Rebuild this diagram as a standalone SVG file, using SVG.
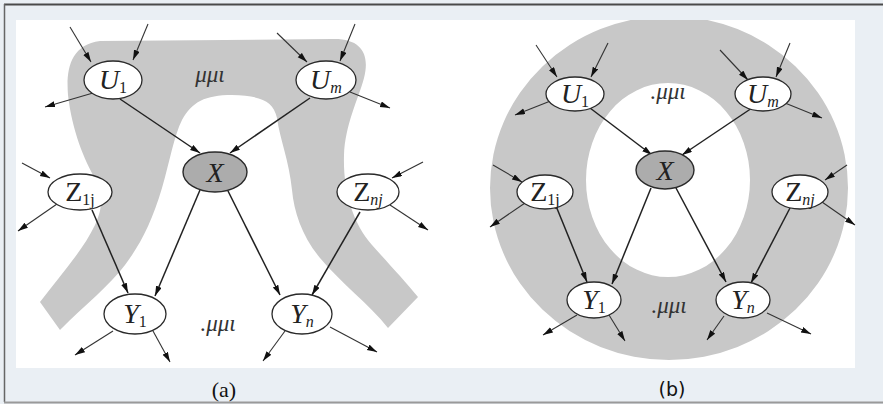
<svg xmlns="http://www.w3.org/2000/svg" width="883" height="404" viewBox="0 0 883 404">
<defs>
<style>
.node{fill:#fff;stroke:#2a2a2a;stroke-width:1.3}
.xnode{fill:#acacac;stroke:#2a2a2a;stroke-width:1.4}
.lbl{font-family:"Liberation Serif",serif;font-style:italic;font-size:28px;fill:#222}
.up{font-style:normal}
.sub{font-size:16px}
.mu{font-family:"Liberation Serif",serif;font-style:italic;font-size:23px;fill:#333}
.e{stroke:#222;stroke-width:1.5;fill:none;marker-end:url(#ah)}
.p{stroke:#333;stroke-width:1.1;fill:none;marker-end:url(#ah)}
.band{fill:#c8c8c8}
</style>
<marker id="ah" markerUnits="userSpaceOnUse" markerWidth="11" markerHeight="8" refX="10" refY="3" orient="auto">
<path d="M0,0 L10,3 L0,6 Z" fill="#111"/>
</marker>
<clipPath id="pan"><rect x="16" y="20" width="839" height="348"/></clipPath>
</defs>
<rect x="0" y="0" width="883" height="404" fill="#eaeff4"/>
<line x1="4" y1="4.5" x2="883" y2="4.5" stroke="#4a4a4a" stroke-width="2"/>
<line x1="4.5" y1="4" x2="4.5" y2="402" stroke="#666" stroke-width="1.5"/>
<line x1="4" y1="402.5" x2="883" y2="402.5" stroke="#9a9a9a" stroke-width="2"/>
<rect x="16" y="20" width="839" height="348" fill="#fff"/>

<g id="bands" clip-path="url(#pan)">
<path class="band" d="M40,302 C58,278 82,252 95,225 C104,206 102,192 96,180 C84,160 72,130 68,95 C66,70 70,45 100,41 L332,39 C362,38 370,55 364,78 C358,100 345,125 344,155 C343,190 352,222 372,245 C388,263 405,281 418,297 L388,328 C370,305 340,282 320,258 C302,236 294,212 292,190 C289,160 280,140 277,118 C273,100 260,96 232,95 C205,95 192,102 182,120 C174,136 170,160 162,188 C152,222 140,245 125,265 C110,285 85,305 60,330 Z"/>
<path class="band" fill-rule="evenodd" d="M490,188 A179,172 0 1,0 848,188 A179,172 0 1,0 490,188 Z M586,180 A82,97 0 1,0 750,180 A82,97 0 1,0 586,180 Z"/>
</g>

<g id="connectors">
<line class="p" x1="70" y1="27" x2="91" y2="62"/>
<line class="p" x1="148" y1="24" x2="133" y2="60"/>
<line class="p" x1="93" y1="93" x2="45" y2="107"/>
<line class="e" x1="120" y1="99" x2="200" y2="153"/>
<line class="p" x1="277" y1="33" x2="307" y2="62"/>
<line class="p" x1="355" y1="24" x2="340" y2="61"/>
<line class="p" x1="350" y1="92" x2="390" y2="108"/>
<line class="e" x1="310" y1="98" x2="230" y2="153"/>
<line class="p" x1="22" y1="163" x2="50" y2="178"/>
<line class="p" x1="57" y1="204" x2="18" y2="231"/>
<line class="e" x1="92" y1="210" x2="128" y2="293"/>
<line class="e" x1="200" y1="190" x2="155" y2="296"/>
<line class="e" x1="228" y1="191" x2="280" y2="295"/>
<line class="p" x1="423" y1="162" x2="392" y2="178"/>
<line class="p" x1="390" y1="205" x2="428" y2="230"/>
<line class="e" x1="360" y1="212" x2="312" y2="295"/>
<line class="p" x1="113" y1="331" x2="75" y2="355"/>
<line class="p" x1="153" y1="331" x2="170" y2="362"/>
<line class="p" x1="285" y1="331" x2="263" y2="361"/>
<line class="p" x1="330" y1="327" x2="377" y2="352"/>

<line class="p" x1="536" y1="45" x2="557" y2="77"/>
<line class="p" x1="608" y1="43" x2="591" y2="77"/>
<line class="p" x1="553" y1="100" x2="515" y2="115"/>
<line class="e" x1="590" y1="108" x2="652" y2="155"/>
<line class="p" x1="720" y1="50" x2="748" y2="80"/>
<line class="p" x1="790" y1="43" x2="776" y2="77"/>
<line class="p" x1="785" y1="103" x2="822" y2="118"/>
<line class="e" x1="752" y1="108" x2="682" y2="155"/>
<line class="p" x1="493" y1="165" x2="522" y2="182"/>
<line class="p" x1="525" y1="203" x2="490" y2="227"/>
<line class="e" x1="556" y1="206" x2="587" y2="282"/>
<line class="e" x1="651" y1="188" x2="612" y2="284"/>
<line class="e" x1="676" y1="188" x2="726" y2="282"/>
<line class="p" x1="847" y1="165" x2="825" y2="180"/>
<line class="p" x1="822" y1="202" x2="855" y2="225"/>
<line class="e" x1="790" y1="208" x2="751" y2="283"/>
<line class="p" x1="577" y1="315" x2="543" y2="335"/>
<line class="p" x1="609" y1="315" x2="625" y2="341"/>
<line class="p" x1="724" y1="316" x2="707" y2="340"/>
<line class="p" x1="767" y1="313" x2="811" y2="334"/>
</g>

<g id="a-U1"><ellipse class="node" cx="113" cy="80" rx="29" ry="19"/><text class="lbl" x="113" y="89" text-anchor="middle">U<tspan class="sub up" dy="4">1</tspan></text></g>
<g id="a-Um"><ellipse class="node" cx="326" cy="80" rx="30" ry="19"/><text class="lbl" x="326" y="89" text-anchor="middle">U<tspan class="sub" dy="4">m</tspan></text></g>
<g id="a-X"><ellipse class="xnode" cx="215" cy="172" rx="32" ry="20"/><text class="lbl" x="215" y="182" text-anchor="middle">X</text></g>
<g id="a-Z1j"><ellipse class="node" cx="80" cy="192" rx="32" ry="18"/><text class="lbl up" x="80" y="201" text-anchor="middle">Z<tspan class="sub" dy="4">1j</tspan></text></g>
<g id="a-Znj"><ellipse class="node" cx="368" cy="192" rx="31" ry="18"/><text class="lbl up" x="368" y="201" text-anchor="middle">Z<tspan class="sub" style="font-style:italic" dy="4">nj</tspan></text></g>
<g id="a-Y1"><ellipse class="node" cx="135" cy="314" rx="31" ry="20"/><text class="lbl" x="135" y="323" text-anchor="middle">Y<tspan class="sub up" dy="4">1</tspan></text></g>
<g id="a-Yn"><ellipse class="node" cx="302" cy="314" rx="30" ry="20"/><text class="lbl" x="302" y="323" text-anchor="middle">Y<tspan class="sub" dy="4">n</tspan></text></g>
<text class="mu" x="210" y="82" text-anchor="middle">μμι</text>
<text class="mu" x="218" y="331" text-anchor="middle">.μμι</text>

<g id="b-U1"><ellipse class="node" cx="575" cy="94" rx="29" ry="17"/><text class="lbl" x="575" y="103" text-anchor="middle">U<tspan class="sub up" dy="4">1</tspan></text></g>
<g id="b-Um"><ellipse class="node" cx="763" cy="94" rx="28" ry="17"/><text class="lbl" x="763" y="103" text-anchor="middle">U<tspan class="sub" dy="4">m</tspan></text></g>
<g id="b-X"><ellipse class="xnode" cx="665" cy="170" rx="29" ry="19"/><text class="lbl" x="665" y="180" text-anchor="middle">X</text></g>
<g id="b-Z1j"><ellipse class="node" cx="545" cy="192" rx="28" ry="17"/><text class="lbl up" x="545" y="201" text-anchor="middle">Z<tspan class="sub" dy="4">1j</tspan></text></g>
<g id="b-Znj"><ellipse class="node" cx="800" cy="192" rx="28" ry="17"/><text class="lbl up" x="800" y="201" text-anchor="middle">Z<tspan class="sub" style="font-style:italic" dy="4">nj</tspan></text></g>
<g id="b-Y1"><ellipse class="node" cx="594" cy="300" rx="27" ry="18"/><text class="lbl" x="594" y="309" text-anchor="middle">Y<tspan class="sub up" dy="4">1</tspan></text></g>
<g id="b-Yn"><ellipse class="node" cx="743" cy="300" rx="27" ry="18"/><text class="lbl" x="743" y="309" text-anchor="middle">Y<tspan class="sub" dy="4">n</tspan></text></g>
<text class="mu" x="668" y="99" text-anchor="middle">.μμι</text>
<text class="mu" x="669" y="313" text-anchor="middle">.μμι</text>

<text x="224" y="397" text-anchor="middle" font-family="Liberation Serif, serif" font-size="22" fill="#111">(a)</text>
<text x="672" y="396" text-anchor="middle" font-family="DejaVu Sans, sans-serif" font-size="19" fill="#111">(b)</text>
</svg>
